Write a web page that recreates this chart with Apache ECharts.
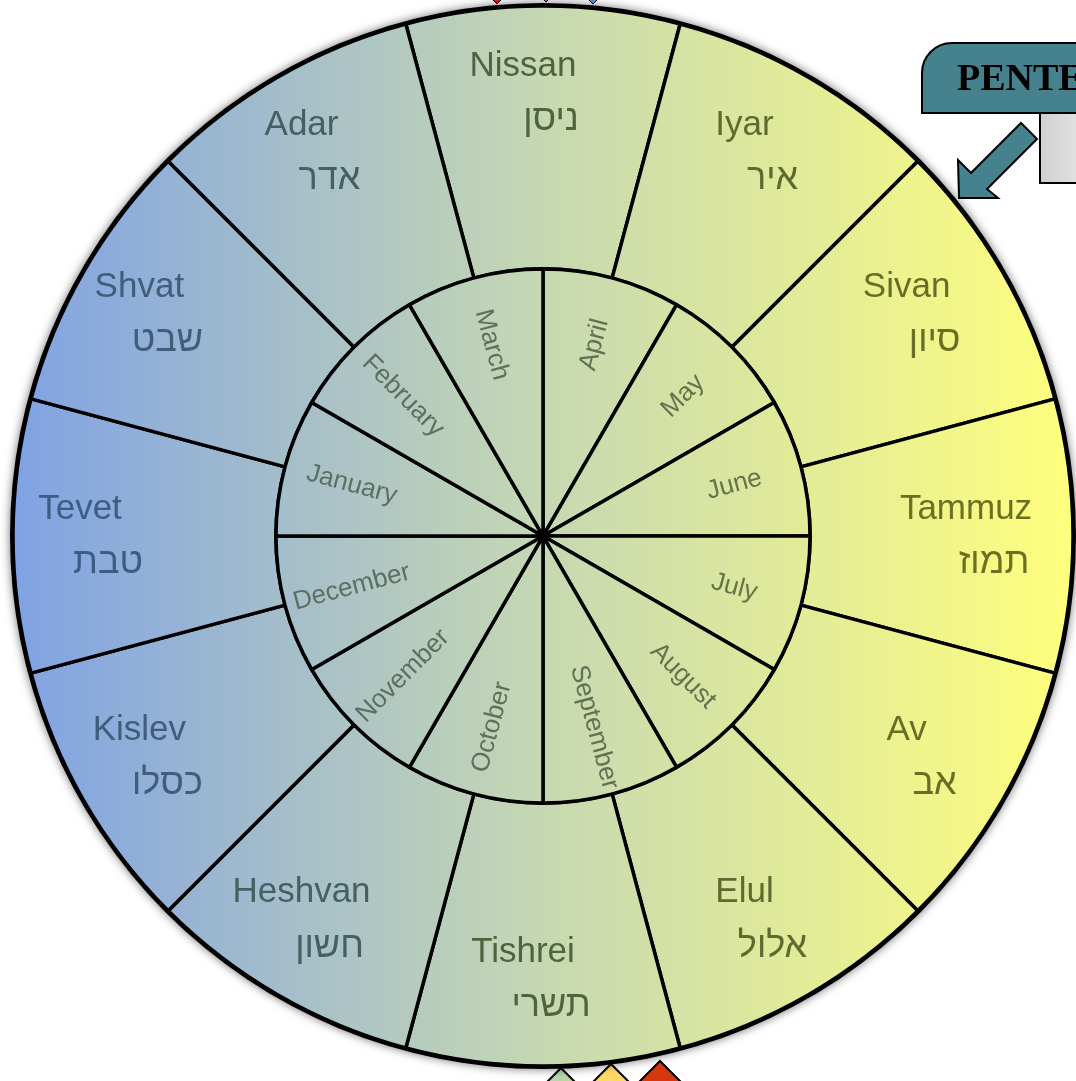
<!DOCTYPE html>
<html>
<head>
<meta charset="utf-8">
<script src="https://cdn.jsdelivr.net/npm/echarts@6/dist/echarts.min.js"></script>
<style>
    html, body { margin: 0; padding: 0; background: #fff; }
    #chart { width: 1076px; height: 1081px; }
</style>
</head>
<body>
<div id="chart"></div>
<script>
// outer ring: hebrew months, clockwise from the top
const hebrewNames = ['Nissan', 'Iyar', 'Sivan', 'Tammuz', 'Av', 'Elul', 'Tishrei', 'Heshvan', 'Kislev', 'Tevet', 'Shvat', 'Adar'];
const hebrewScript = ['ניסן', 'איר', 'סיון', 'תמוז', 'אב', 'אלול', 'תשרי', 'חשון', 'כסלו', 'טבת', 'שבט', 'אדר'];
const hebrewShare = [1, 1, 1, 1, 1, 1, 1, 1, 1, 1, 1, 1];
// inner ring: civil months, clockwise from the top
const civilNames = ['April', 'May', 'June', 'July', 'August', 'September', 'October', 'November', 'December', 'January', 'February', 'March'];
const civilShare = [1, 1, 1, 1, 1, 1, 1, 1, 1, 1, 1, 1];

const cx = 543, cy = 536;
const left = cx - 530, right = cx + 530;

// background colours, left -> middle -> right
const bgStops = [[128, 162, 228], [198, 216, 178], [255, 255, 125]];
const outerTextStops = [[58, 90, 146], [78, 100, 62], [114, 114, 28]];
const innerTextStops = [[86, 108, 118], [96, 112, 88], [114, 122, 46]];

function colorAt(stops, x) {
    let t = (x - left) / (right - left);
    t = Math.max(0, Math.min(1, t));
    let a, b, k;
    if (t < 0.5) { a = stops[0]; b = stops[1]; k = t * 2; }
    else { a = stops[1]; b = stops[2]; k = (t - 0.5) * 2; }
    const c = a.map((v, i) => Math.round(v + (b[i] - v) * k));
    return 'rgb(' + c.join(',') + ')';
}

const fill = new echarts.graphic.LinearGradient(left, 0, right, 0, [
    { offset: 0, color: 'rgb(' + bgStops[0].join(',') + ')' },
    { offset: 0.5, color: 'rgb(' + bgStops[1].join(',') + ')' },
    { offset: 1, color: 'rgb(' + bgStops[2].join(',') + ')' },
], true);

const chart = echarts.init(document.getElementById('chart'));

const outerLabelR = 440, innerLabelR = 195;

const option = {
    animation: false,
    series: [
        {
            // black disc under everything, gives the soft outer edge
            type: 'pie',
            silent: true,
            center: [cx, cy],
            radius: [0, 533],
            z: 1,
            label: { show: false },
            labelLine: { show: false },
            itemStyle: { color: '#000', shadowBlur: 10, shadowColor: 'rgba(0,0,0,0.55)' },
            data: [{ value: 1 }],
        },
        {
            type: 'pie',
            silent: true,
            center: [cx, cy],
            radius: [267, 530],
            startAngle: 105,
            z: 2,
            label: { show: false },
            labelLine: { show: false },
            itemStyle: { color: fill, borderColor: '#000', borderWidth: 3.5 },
            data: hebrewShare.map((v, i) => ({ name: hebrewNames[i], value: v })),
        },
        {
            type: 'pie',
            silent: true,
            center: [cx, cy],
            radius: [0, 267],
            startAngle: 90,
            z: 2,
            label: { show: false },
            labelLine: { show: false },
            itemStyle: { color: fill, borderColor: '#000', borderWidth: 3.5 },
            data: civilShare.map((v, i) => ({ name: civilNames[i], value: v })),
        },
        {
            // labels of the outer ring
            type: 'pie',
            silent: true,
            center: [cx, cy],
            radius: [outerLabelR - 30, outerLabelR + 30],
            startAngle: 105,
            z: 3,
            avoidLabelOverlap: false,
            labelLine: { show: false },
            itemStyle: { color: 'transparent', borderWidth: 0 },
            label: {
                show: true,
                position: 'inside',
                rotate: 0,
                formatter: function (p) {
                    return '{e|' + p.name + '}\n{h|' + hebrewScript[p.dataIndex] + '}';
                },
                rich: {
                    e: { fontFamily: 'Liberation Sans', fontSize: 35, lineHeight: 54, padding: [0, 40, 0, 0] },
                    h: { fontFamily: 'Liberation Sans', fontSize: 36, lineHeight: 54, padding: [0, 0, 0, 16] },
                },
            },
            data: hebrewShare.map((v, i) => {
                const x = cx + outerLabelR * Math.sin(i * Math.PI / 6);
                const c = colorAt(outerTextStops, x);
                return {
                    name: hebrewNames[i],
                    value: v,
                    label: { rich: { e: { color: c }, h: { color: c } } },
                };
            }),
        },
        {
            // labels of the inner ring
            type: 'pie',
            silent: true,
            center: [cx, cy],
            radius: [innerLabelR - 25, innerLabelR + 25],
            startAngle: 90,
            z: 3,
            avoidLabelOverlap: false,
            labelLine: { show: false },
            itemStyle: { color: 'transparent', borderWidth: 0 },
            label: {
                show: true,
                position: 'inside',
                rotate: 'radial',
                fontFamily: 'Liberation Sans',
                fontSize: 26,
                formatter: '{b}',
            },
            data: civilShare.map((v, i) => {
                const x = cx + innerLabelR * Math.sin((i + 0.5) * Math.PI / 6);
                return { name: civilNames[i], value: v, label: { color: colorAt(innerTextStops, x) } };
            }),
        },
    ],
    graphic: [
        // grey note box under the banner
        {
            type: 'rect', z: 10,
            shape: { x: 1040, y: 113, width: 60, height: 70 },
            style: {
                fill: new echarts.graphic.LinearGradient(0, 0, 1, 0, [
                    { offset: 0, color: '#cfcfcf' }, { offset: 1, color: '#ececec' },
                ]),
                stroke: '#000', lineWidth: 2,
            },
        },
        // banner
        {
            type: 'rect', z: 11,
            shape: { x: 922, y: 43, width: 200, height: 70, r: [30, 0, 0, 0] },
            style: { fill: '#46818e', stroke: '#000', lineWidth: 2 },
        },
        {
            type: 'text', z: 12,
            style: {
                x: 957, y: 80, text: 'PENTECOST',
                font: 'bold 38px "Liberation Serif"', fill: '#000',
                verticalAlign: 'middle',
            },
        },
        // arrow pointing at the ring
        {
            type: 'polygon', z: 11,
            shape: { points: [[959, 198], [958, 160], [971, 173], [1021, 123], [1037, 139], [987, 189], [998, 198]] },
            style: { fill: '#46818e', stroke: '#000', lineWidth: 2 },
        },
        // small markers peeking at the top
        { type: 'polygon', z: 1, shape: { points: [[497, 4], [505, -4], [497, -12], [489, -4]] }, style: { fill: '#d81e1e', stroke: '#000', lineWidth: 1 } },
        { type: 'polygon', z: 1, shape: { points: [[546, 2], [554, -6], [546, -14], [538, -6]] }, style: { fill: '#c869b4', stroke: '#000', lineWidth: 1 } },
        { type: 'polygon', z: 1, shape: { points: [[593, 4], [601, -4], [593, -12], [585, -4]] }, style: { fill: '#5b9bd5', stroke: '#000', lineWidth: 1 } },
        // markers peeking at the bottom
        { type: 'polygon', z: 1, shape: { points: [[561, 1068], [581, 1088], [561, 1108], [541, 1088]] }, style: { fill: '#b6d7a8', stroke: '#000', lineWidth: 2 } },
        { type: 'polygon', z: 1, shape: { points: [[611, 1064], [631, 1084], [611, 1104], [591, 1084]] }, style: { fill: '#ffd966', stroke: '#000', lineWidth: 2 } },
        { type: 'polygon', z: 1, shape: { points: [[660, 1061], [684, 1085], [660, 1109], [636, 1085]] }, style: { fill: '#d4380d', stroke: '#000', lineWidth: 2 } },
    ],
};

chart.setOption(option);
window.addEventListener('resize', function () {
    chart.resize();
});
</script>
</body>
</html>
